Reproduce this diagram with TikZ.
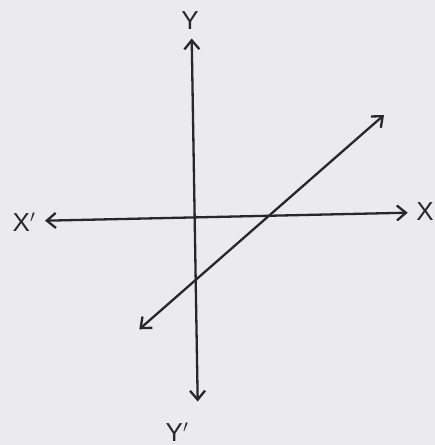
\documentclass[tikz,border=0pt]{standalone}
\usepackage{fontspec}
\setmainfont{Liberation Sans}
\usetikzlibrary{arrows.meta}
\definecolor{paper}{RGB}{234,234,239}
\definecolor{ink}{RGB}{40,40,40}
\begin{document}
\begin{tikzpicture}[x=1pt,y=-1pt,
  axis/.style={draw=ink,line width=2.3pt,{Straight Barb[length=9pt,width=15pt,line width=2.3pt]}-{Straight Barb[length=9pt,width=15pt,line width=2.3pt]}},
  lbl/.style={text=ink,font=\fontsize{26}{26}\selectfont,inner sep=0pt,text depth=0pt}]
\fill[paper] (0,0) rectangle (435,445);
\useasboundingbox (0,0) rectangle (435,445);
\coordinate (ytop) at (191.7,38.5);
\coordinate (ybot) at (197.7,401.5);
\coordinate (xl) at (45,220.7);
\coordinate (xr) at (407.7,212.7);
\coordinate (dtop) at (384,115);
\coordinate (dbot) at (139.3,329.3);
\node[lbl] (Y) at (190,21) {Y};
\node[lbl] (Yp) at (177,432) {Y$'$};
\node[lbl] (Xp) at (24,222) {X$'$};
\node[lbl] (X) at (425,212) {X};
\draw[axis] (ybot) -- (ytop);
\draw[axis] (xl) -- (xr);
\draw[axis] (dbot) -- (dtop);
\end{tikzpicture}
\end{document}
